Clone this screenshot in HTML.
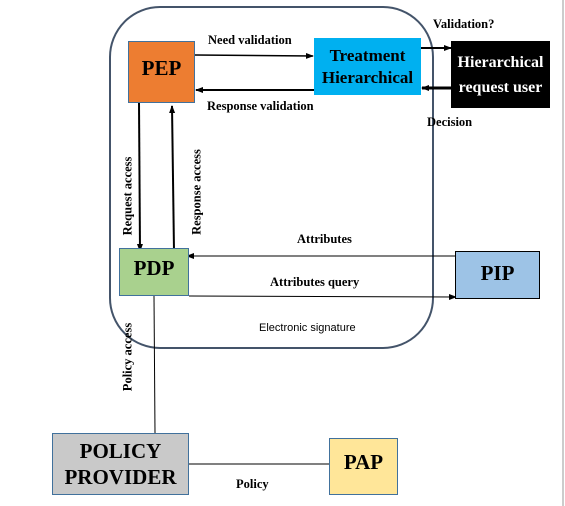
<!DOCTYPE html>
<html><head><style>
body{margin:0;width:565px;height:506px;background:#fff;position:relative;overflow:hidden;font-family:"Liberation Serif",serif;}
.b{position:absolute;box-sizing:border-box;display:flex;align-items:center;justify-content:center;text-align:center;font-weight:bold;color:#000;}
.t{position:absolute;font-weight:bold;font-size:12.5px;white-space:nowrap;}
.r{position:absolute;font-weight:bold;font-size:12.5px;white-space:nowrap;transform:translate(-50%,-50%) rotate(-90deg);}
</style></head><body>
<svg width="565" height="506" style="position:absolute;left:0;top:0">
<defs><marker id="a" markerWidth="8" markerHeight="8" refX="7" refY="4" orient="auto" markerUnits="userSpaceOnUse"><path d="M0,1 L8,4 L0,7z" fill="#000"/></marker></defs>
<rect x="110" y="7" width="323" height="341" rx="50" fill="none" stroke="#44546a" stroke-width="2"/>
<line x1="563" y1="0" x2="563" y2="506" stroke="#999" stroke-width="1"/>
<line x1="195" y1="55" x2="313" y2="56" stroke="#000" stroke-width="1.5" marker-end="url(#a)"/>
<line x1="314" y1="90" x2="196" y2="90" stroke="#000" stroke-width="2" marker-end="url(#a)"/>
<line x1="419" y1="48" x2="451" y2="48" stroke="#000" stroke-width="2" marker-end="url(#a)"/>
<line x1="451" y1="88" x2="422" y2="88" stroke="#000" stroke-width="3" marker-end="url(#a)"/>
<line x1="139" y1="103" x2="140" y2="251" stroke="#000" stroke-width="2" marker-end="url(#a)"/>
<line x1="174" y1="251" x2="172" y2="106" stroke="#000" stroke-width="2" marker-end="url(#a)"/>
<line x1="455" y1="256" x2="187" y2="256" stroke="#000" stroke-width="1" marker-end="url(#a)"/>
<line x1="189" y1="296" x2="456" y2="297" stroke="#000" stroke-width="1" marker-end="url(#a)"/>
<line x1="154" y1="296" x2="155" y2="433" stroke="#000" stroke-width="1"/>
<line x1="189" y1="464" x2="329" y2="464" stroke="#000" stroke-width="1"/>
</svg>
<div class="b" style="left:128px;top:41px;width:67px;height:62px;background:#ed7d31;border:1px solid #41719c;font-size:21px;padding-bottom:8px">PEP</div>
<div class="b" style="left:314px;top:38px;width:107px;height:57px;background:#00b0f0;font-size:17px;line-height:22px">Treatment<br>Hierarchical</div>
<div class="b" style="left:451px;top:41px;width:99px;height:67px;background:#000;color:#fff;font-size:16px;line-height:25px">Hierarchical<br>request user</div>
<div class="b" style="left:119px;top:248px;width:70px;height:48px;background:#a9d18e;border:1px solid #41719c;font-size:21px;padding-bottom:8px">PDP</div>
<div class="b" style="left:455px;top:251px;width:85px;height:48px;background:#9dc3e6;border:1px solid #000;font-size:21px;padding-bottom:4px">PIP</div>
<div class="b" style="left:52px;top:433px;width:137px;height:62px;background:#c9c9c9;border:1px solid #41719c;font-size:21px;line-height:26px">POLICY<br>PROVIDER</div>
<div class="b" style="left:329px;top:438px;width:69px;height:57px;background:#ffe699;border:1px solid #41719c;font-size:21px;padding-bottom:8px">PAP</div>
<div class="t" style="left:208px;top:33px">Need validation</div>
<div class="t" style="left:207px;top:99px">Response validation</div>
<div class="t" style="left:433px;top:17px">Validation?</div>
<div class="t" style="left:427px;top:115px">Decision</div>
<div class="t" style="left:297px;top:232px">Attributes</div>
<div class="t" style="left:270px;top:275px">Attributes query</div>
<div class="t" style="left:259px;top:322px;font-family:'Liberation Sans',sans-serif;font-weight:normal;font-size:11px">Electronic signature</div>
<div class="t" style="left:236px;top:477px">Policy</div>
<div class="r" style="left:128px;top:196px">Request access</div>
<div class="r" style="left:197px;top:192px">Response access</div>
<div class="r" style="left:128px;top:357px">Policy access</div>
</body></html>
